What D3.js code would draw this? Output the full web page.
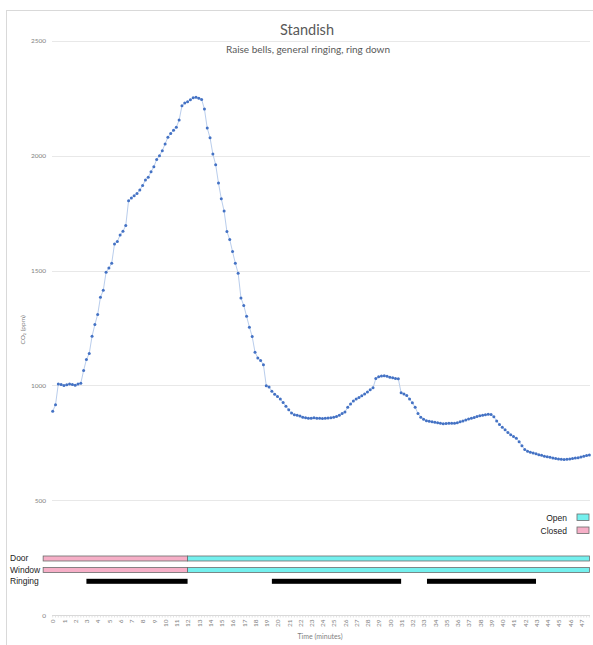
<!DOCTYPE html>
<html>
<head>
<meta charset="utf-8">
<script src="https://cdn.jsdelivr.net/npm/d3@7"></script>
<style>
  body { margin: 0; background: #fff; }
  svg { display: block; }
</style>
</head>
<body>
<svg id="chart" width="593" height="645"></svg>
<script>
// CO2 readings, one every 15 seconds from minute 0
const sampleStepMinutes = 0.25;
const co2 = [
  888, 916, 1007, 1004, 1000, 1003, 1006, 1004, 1001, 1007,
  1010, 1065, 1113, 1139, 1214, 1265, 1309, 1384, 1414, 1493,
  1511, 1532, 1616, 1627, 1655, 1671, 1696, 1804, 1816, 1826,
  1836, 1851, 1870, 1894, 1906, 1930, 1952, 1983, 2000, 2022,
  2051, 2080, 2097, 2111, 2124, 2155, 2217, 2229, 2235, 2243,
  2252, 2254, 2250, 2245, 2203, 2120, 2078, 2007, 1961, 1881,
  1813, 1759, 1670, 1635, 1583, 1532, 1489, 1381, 1348, 1301,
  1254, 1213, 1145, 1120, 1109, 1090, 999, 993, 975, 962,
  952, 941, 926, 910, 894, 880, 873, 870, 867, 862,
  860, 857, 858, 860, 858, 857, 856, 857, 859, 860,
  862, 865, 871, 878, 885, 905, 920, 933, 941, 948,
  955, 963, 972, 981, 990, 1030, 1038, 1041, 1042, 1040,
  1036, 1034, 1031, 1029, 968, 963, 956, 941, 925, 905,
  878, 862, 853, 847, 844, 842, 840, 838, 836, 834,
  835, 836, 836, 836, 838, 842, 846, 850, 854, 858,
  861, 865, 868, 871, 873, 875, 874, 864, 846, 830,
  818, 807, 796, 786, 778, 770, 755, 738, 722, 714,
  710, 706, 703, 699, 696, 692, 690, 688, 685, 682,
  680, 679, 678, 679, 680, 682, 684, 686, 689, 692,
  695, 698
];

const yTickValues = [0, 500, 1000, 1500, 2000, 2500];
const minuteLabels = d3.range(0, 48);

// Door / window state and ringing periods, in minutes
const doorStates = [
  { start: -0.85, end: 12, state: "Closed" },
  { start: 12, end: 47.75, state: "Open" }
];
const windowStates = [
  { start: -0.85, end: 12, state: "Closed" },
  { start: 12, end: 47.75, state: "Open" }
];
const ringingPeriods = [
  { start: 3, end: 12 },
  { start: 19.5, end: 31 },
  { start: 33.3, end: 43 }
];
const legendStates = ["Open", "Closed"];

const stateColor = { Open: "#74f0ee", Closed: "#f6afc7" };
const points = co2.map((v, i) => ({ t: i * sampleStepMinutes, v }));

const svg = d3.select("#chart");

// chart frame
svg.append("rect")
  .attr("x", 6.5).attr("y", 10.5)
  .attr("width", 600).attr("height", 650)
  .attr("fill", "#fff").attr("stroke", "#d9d9d9").attr("stroke-width", 1);

const x = d3.scaleLinear().domain([0, 48]).range([52.7, 592.2]);
const y = d3.scaleLinear().domain([0, 2500]).range([615.3, 40.8]);
const plotLeft = 52, plotRight = 590;

// titles
svg.append("text")
  .attr("x", 307).attr("y", 35)
  .attr("text-anchor", "middle")
  .attr("font-family", "Lato, 'Open Sans', sans-serif")
  .attr("font-size", 14.5).attr("fill", "#595959")
  .text("Standish");
svg.append("text")
  .attr("x", 308).attr("y", 53)
  .attr("text-anchor", "middle")
  .attr("font-family", "Lato, 'Open Sans', sans-serif")
  .attr("font-size", 10).attr("fill", "#595959")
  .text("Raise bells, general ringing, ring down");

// horizontal gridlines
svg.append("g").selectAll("line")
  .data(yTickValues.filter(d => d > 0))
  .join("line")
  .attr("x1", plotLeft).attr("x2", plotRight)
  .attr("y1", d => Math.round(y(d)) + 0.5).attr("y2", d => Math.round(y(d)) + 0.5)
  .attr("stroke", "#e8e8e8").attr("stroke-width", 1);

// y axis labels
const yAxis = d3.axisLeft(y).tickValues(yTickValues).tickSize(0).tickPadding(0)
  .tickFormat(d3.format("d"));
const yG = svg.append("g").attr("transform", "translate(46,0)").call(yAxis);
yG.select(".domain").remove();
yG.selectAll("text")
  .attr("font-family", "Lato, sans-serif")
  .attr("font-size", 6.5).attr("fill", "#7f7f7f");

svg.append("text")
  .attr("transform", "translate(25,330) rotate(-90)")
  .attr("text-anchor", "middle")
  .attr("font-family", "Lato, sans-serif")
  .attr("font-size", 6.5).attr("fill", "#7f7f7f")
  .text("CO₂ (ppm)");

// x axis baseline with a small tick for each reading
const xBase = Math.round(y(0)) + 0.5;
svg.append("line")
  .attr("x1", plotLeft).attr("x2", plotRight)
  .attr("y1", xBase).attr("y2", xBase)
  .attr("stroke", "#d9d9d9");
svg.append("g").selectAll("line")
  .data(points)
  .join("line")
  .attr("x1", d => x(d.t)).attr("x2", d => x(d.t))
  .attr("y1", xBase).attr("y2", xBase + 2)
  .attr("stroke", "#dcdcdc").attr("stroke-width", 0.8);

const xAxis = d3.axisBottom(x).tickValues(minuteLabels).tickSize(0).tickFormat(d3.format("d"));
const xG = svg.append("g").attr("transform", `translate(0,${xBase + 4})`).call(xAxis);
xG.select(".domain").remove();
xG.selectAll("text")
  .attr("transform", "rotate(-90)")
  .attr("text-anchor", "end")
  .attr("dy", "0.35em").attr("x", 0).attr("y", 0)
  .attr("font-family", "Lato, sans-serif")
  .attr("font-size", 6.5).attr("fill", "#7f7f7f");

svg.append("text")
  .attr("x", 320).attr("y", 639)
  .attr("text-anchor", "middle")
  .attr("font-family", "Lato, sans-serif")
  .attr("font-size", 7).attr("fill", "#7f7f7f")
  .text("Time (minutes)");

// CO2 line and markers
svg.append("path")
  .datum(points)
  .attr("fill", "none")
  .attr("stroke", "#b9cdec").attr("stroke-width", 1)
  .attr("d", d3.line().x(d => x(d.t)).y(d => y(d.v)));
svg.append("g").selectAll("circle")
  .data(points)
  .join("circle")
  .attr("cx", d => x(d.t)).attr("cy", d => y(d.v))
  .attr("r", 1.5)
  .attr("fill", "#4472c4");

// state rows
const rowFont = "'Liberation Sans', Arial, sans-serif";
function stateRow(data, top, label) {
  svg.append("g").selectAll("rect")
    .data(data)
    .join("rect")
    .attr("x", d => x(d.start)).attr("y", top)
    .attr("width", d => x(d.end) - x(d.start)).attr("height", 5)
    .attr("fill", d => stateColor[d.state])
    .attr("stroke", "#6b6b6b").attr("stroke-width", 0.8);
  svg.append("text")
    .attr("x", 10).attr("y", top + 5)
    .attr("font-family", rowFont).attr("font-size", 8.5).attr("fill", "#222")
    .text(label);
}
stateRow(doorStates, 556, "Door");
stateRow(windowStates, 567.5, "Window");

svg.append("g").selectAll("rect")
  .data(ringingPeriods)
  .join("rect")
  .attr("x", d => x(d.start)).attr("y", 578.8)
  .attr("width", d => x(d.end) - x(d.start)).attr("height", 5)
  .attr("fill", "#000");
svg.append("text")
  .attr("x", 10).attr("y", 584)
  .attr("font-family", rowFont).attr("font-size", 8.5).attr("fill", "#222")
  .text("Ringing");

// legend
const legend = svg.append("g").selectAll("g")
  .data(legendStates)
  .join("g")
  .attr("transform", (d, i) => `translate(0,${514 + i * 13})`);
legend.append("rect")
  .attr("x", 577).attr("y", 0).attr("width", 12).attr("height", 6.5)
  .attr("fill", d => stateColor[d]).attr("stroke", "#6b6b6b").attr("stroke-width", 0.8);
legend.append("text")
  .attr("x", 567).attr("y", 6.5)
  .attr("text-anchor", "end")
  .attr("font-family", rowFont).attr("font-size", 8.5).attr("fill", "#222")
  .text(d => d);
</script>
</body>
</html>
